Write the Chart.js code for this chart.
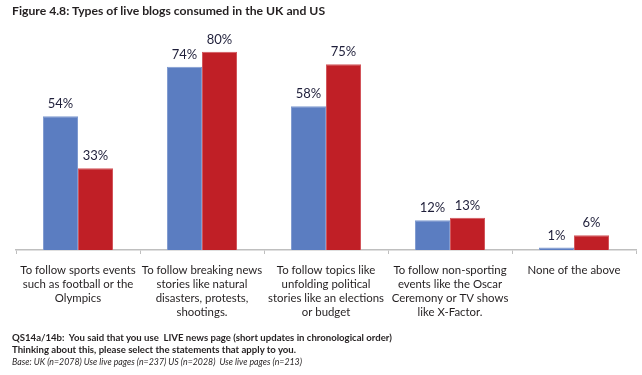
<!DOCTYPE html>
<html>
<head>
<meta charset="utf-8">
<script src="https://cdn.jsdelivr.net/npm/chart.js@4"></script>
<style>
  html, body { margin: 0; padding: 0; background: #fff; }
  #wrap { position: relative; width: 642px; height: 375px; overflow: hidden; }
  #c { position: absolute; left: 0; top: 0; }
  .title { position: absolute; left: 12px; top: 3px; font-family: "Lato", sans-serif; font-weight: 700; font-size: 12.2px; color: #231f20; white-space: nowrap; }
  .foot { position: absolute; left: 12px; top: 332px; font-family: "Lato", sans-serif; font-size: 9.6px; line-height: 12px; color: #231f20; white-space: nowrap; }
  .foot div { height: 12px; }
  .foot b { font-weight: 700; }
  .foot i { font-style: italic; display: inline-block; transform: scaleX(0.915); transform-origin: 0 0; }
</style>
</head>
<body>
<div id="wrap">
  <canvas id="c" width="642" height="375"></canvas>
  <div class="title">Figure 4.8: Types of live blogs consumed in the UK and US</div>
  <div class="foot">
    <div><b>QS14a/14b:&nbsp; You said that you use&nbsp; LIVE news page (short updates in chronological order)</b></div>
    <div><b>Thinking about this, please select the statements that apply to you.</b></div>
    <div><i>Base: UK (n=2078) Use live pages (n=237) US (n=2028)&nbsp; Use live pages (n=213)</i></div>
  </div>
</div>
<script>
const categories = [
  ["To follow sports events", "such as football or the", "Olympics"],
  ["To follow breaking news", "stories like natural", "disasters, protests,", "shootings."],
  ["To follow topics like", "unfolding political", "stories like an elections", "or budget"],
  ["To follow non-sporting", "events like the Oscar", "Ceremony or TV shows", "like X-Factor."],
  ["None of the above"]
];
const ukValues = [54, 74, 58, 12, 1];
const usValues = [33, 80, 75, 13, 6];
const seriesNames = ["UK", "US"];

const labelPlugin = {
  id: 'valueLabels',
  afterDatasetsDraw(chart) {
    const ctx = chart.ctx;
    ctx.save();
    ctx.font = '13px Lato, sans-serif';
    ctx.fillStyle = '#1f1f3a';
    ctx.textAlign = 'center';
    ctx.textBaseline = 'alphabetic';
    chart.data.datasets.forEach((ds, i) => {
      chart.getDatasetMeta(i).data.forEach((bar, j) => {
        ctx.fillText(ds.data[j] + '%', bar.x, bar.y - 8);
      });
    });
    ctx.restore();
  }
};

new Chart(document.getElementById('c'), {
  type: 'bar',
  data: {
    labels: categories,
    datasets: [
      { label: seriesNames[0], data: ukValues, backgroundColor: '#5b7dc1', borderColor: '#7f9ad0', borderWidth: 1, categoryPercentage: 0.565, barPercentage: 1 },
      { label: seriesNames[1], data: usValues, backgroundColor: '#c01f26', borderColor: '#d2575c', borderWidth: 1, categoryPercentage: 0.565, barPercentage: 1 }
    ]
  },
  options: {
    responsive: false,
    animation: false,
    layout: { padding: { top: 27, left: 16, right: 6, bottom: 0 } },
    plugins: { legend: { display: false }, tooltip: { enabled: false } },
    scales: {
      y: { display: false, min: 0, max: 90 },
      x: {
        afterFit(scale) { scale.height = 125; },
        border: { display: true, color: '#bfbfbf', width: 1.5 },
        grid: { offset: true, drawOnChartArea: false, drawTicks: true, tickLength: 4, color: '#bfbfbf', lineWidth: 1 },
        ticks: { padding: 9, maxRotation: 0, autoSkip: false, color: '#231f20', font: { family: 'Lato, sans-serif', size: 11.4, lineHeight: 1.23 } }
      }
    }
  },
  plugins: [labelPlugin]
});
</script>
</body>
</html>
